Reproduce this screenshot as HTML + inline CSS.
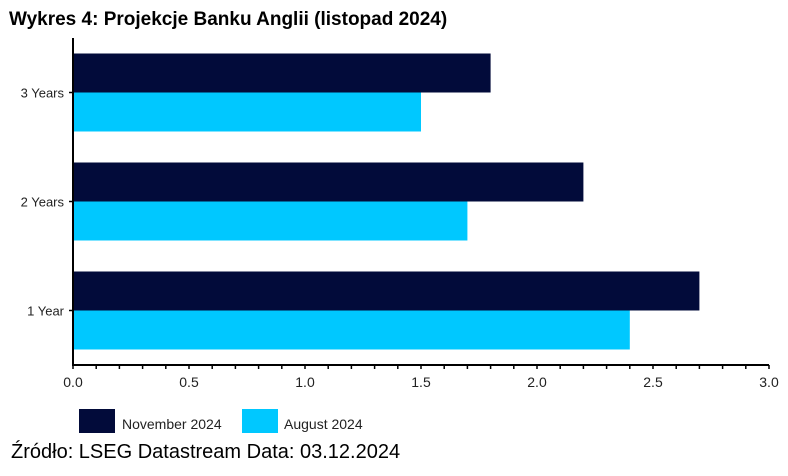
<!DOCTYPE html>
<html><head><meta charset="utf-8"><style>
body{margin:0;background:#fff;width:788px;height:471px;overflow:hidden;font-family:"Liberation Sans",sans-serif}
</style></head><body>
<svg width="788" height="471" xmlns="http://www.w3.org/2000/svg">
<text x="9" y="25" font-size="19" font-weight="bold" fill="#000">Wykres 4: Projekcje Banku Anglii (listopad 2024)</text>
<g id="plot"></g>
<rect x="79" y="409" width="36" height="24" fill="#020b3a"/>
<text x="122" y="429" font-size="14" fill="#222">November 2024</text>
<rect x="242" y="409" width="36" height="24" fill="#00c8ff"/>
<text x="284" y="429" font-size="14" fill="#222">August 2024</text>
<text x="11" y="458" font-size="20" fill="#000">Źródło: LSEG Datastream Data: 03.12.2024</text>
</svg>
<script>
const categories = ["1 Year","2 Years","3 Years"];
const november = [2.7, 2.2, 1.8];
const august = [2.4, 1.7, 1.5];
const xTicks = ["0.0","0.5","1.0","1.5","2.0","2.5","3.0"];
const NS="http://www.w3.org/2000/svg";
const g=document.getElementById('plot');
const x0=73,x1=769,xmax=3,axisY=365,top0=38;
const xs=v=>x0+(x1-x0)*v/xmax;
const bandH=(axisY-top0)/categories.length;
const catY=i=>axisY-bandH*(i+0.5);
function mk(t,a){const e=document.createElementNS(NS,t);for(const k in a)e.setAttribute(k,a[k]);g.appendChild(e);return e;}
categories.forEach((c,i)=>{
  const cy=catY(i);
  let r=mk('rect',{x:x0,y:cy-39,width:xs(november[i])-x0,height:39,fill:'#020b3a'});
  
  
  r=mk('rect',{x:x0,y:cy,width:xs(august[i])-x0,height:39,fill:'#00c8ff'});
  
  
  const t=mk('text',{x:64,y:cy+5,'font-size':13,'text-anchor':'end',fill:'#222'});
  t.textContent=c;
  
  
  mk('line',{x1:69,x2:73,y1:cy,y2:cy,stroke:'#000','stroke-width':1.5});
});
for(let k=0;k<=30;k++){
  const x=xs(k/10);
  mk('line',{x1:x,x2:x,y1:axisY,y2:axisY+4,stroke:'#000','stroke-width':1.5});
}
xTicks.forEach(l=>{
  const t=mk('text',{x:xs(parseFloat(l)),y:387,'font-size':14,'text-anchor':'middle',fill:'#222'});
  t.textContent=l;
  
  
});
let a=mk('line',{x1:x0,x2:x1,y1:axisY,y2:axisY,stroke:'#000','stroke-width':2});


a=mk('line',{x1:x0,x2:x0,y1:top0,y2:axisY+1,stroke:'#000','stroke-width':2});


</script>
</body></html>
